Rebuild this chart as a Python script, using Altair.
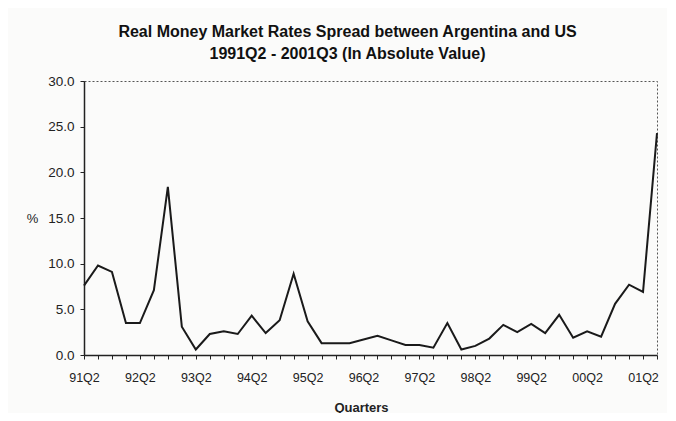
import altair as alt
import pandas as pd

quarters = ["91Q2", "91Q3", "91Q4", "92Q1", "92Q2", "92Q3", "92Q4", "93Q1",
            "93Q2", "93Q3", "93Q4", "94Q1", "94Q2", "94Q3", "94Q4", "95Q1",
            "95Q2", "95Q3", "95Q4", "96Q1", "96Q2", "96Q3", "96Q4", "97Q1",
            "97Q2", "97Q3", "97Q4", "98Q1", "98Q2", "98Q3", "98Q4", "99Q1",
            "99Q2", "99Q3", "99Q4", "00Q1", "00Q2", "00Q3", "00Q4", "01Q1",
            "01Q2", "01Q3"]
spread = [7.6, 9.8, 9.1, 3.5, 3.5, 7.1, 18.4, 3.1,
          0.6, 2.3, 2.6, 2.3, 4.3, 2.4, 3.8, 8.9,
          3.7, 1.3, 1.3, 1.3, 1.7, 2.1, 1.6, 1.1,
          1.1, 0.8, 3.5, 0.6, 1.0, 1.8, 3.3, 2.5,
          3.4, 2.4, 4.4, 1.9, 2.6, 2.0, 5.6, 7.7,
          6.9, 24.3]
y_ticks = [0, 5, 10, 15, 20, 25, 30]

df = pd.DataFrame({"q": quarters, "v": spread})

FONT = "Liberation Sans"

chart = alt.Chart(df).mark_line(color="#1a1a1a", strokeWidth=2).encode(
    x=alt.X("q:N", sort=quarters,
            scale=alt.Scale(type="point", padding=0),
            axis=alt.Axis(title="Quarters", labelAngle=0,
                          labelExpr="indexof(datum.value, 'Q2') >= 0 ? datum.value : ''",
                          labelOverlap=False, labelFontSize=12.5, labelFont=FONT,
                          labelColor="#222", labelPadding=12,
                          tickSize=4, tickColor="#222", domainColor="#222",
                          domainWidth=1.5,
                          titleFont=FONT, titleFontSize=13, titleFontWeight="bold",
                          titleColor="#222", titleX=277, titleY=52,
                          titleAnchor="middle", titleBaseline="middle", grid=False)),
    y=alt.Y("v:Q", scale=alt.Scale(domain=[0, 30], nice=False),
            axis=alt.Axis(title="%", values=y_ticks, format=".1f",
                          labelFontSize=13.5, labelFont=FONT, labelColor="#222",
                          labelPadding=6, tickSize=4, tickColor="#222",
                          domainColor="#222", domainWidth=1.5, grid=False,
                          titleAngle=0, titleFont=FONT, titleFontSize=13,
                          titleFontWeight="normal", titleColor="#222",
                          titleX=-52, titleY=137, titleAlign="center",
                          titleBaseline="middle")),
).properties(
    width=573,
    height=274,
    padding={"left": 76, "top": 73, "right": 10, "bottom": 58},
    autosize=alt.AutoSizeParams(type="none"),
    background="#fbfbfa",
    title=alt.TitleParams(
        text=["Real Money Market Rates Spread between Argentina and US",
              "1991Q2 - 2001Q3 (In Absolute Value)"],
        font=FONT, fontSize=16, fontWeight="bold", color="#111",
        anchor="middle", dx=-23, offset=12, lineHeight=22),
).configure_view(
    stroke="#555", strokeDash=[2, 2], strokeWidth=1
)

chart.save("out.html", embed_options={"renderer": "svg", "actions": False})
